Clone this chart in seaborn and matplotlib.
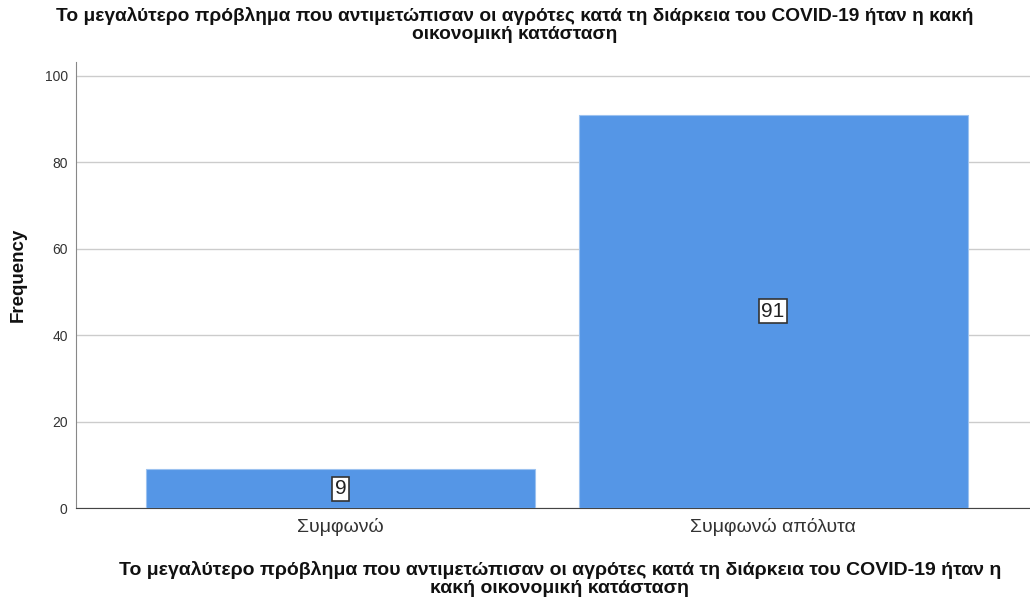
import matplotlib
matplotlib.use("Agg")
import matplotlib.pyplot as plt
import seaborn as sns
import pandas as pd

categories = ["Συμφωνώ", "Συμφωνώ απόλυτα"]
counts = [9, 91]
title = ("Το μεγαλύτερο πρόβλημα που αντιμετώπισαν οι αγρότες κατά τη διάρκεια του COVID-19 ήταν η κακή\n"
         "οικονομική κατάσταση")
xlabel = ("Το μεγαλύτερο πρόβλημα που αντιμετώπισαν οι αγρότες κατά τη διάρκεια του COVID-19 ήταν η\n"
          "κακή οικονομική κατάσταση")

df = pd.DataFrame({"cat": categories, "n": counts})

sns.set_style("white")
plt.rcParams["font.family"] = ["Liberation Sans", "DejaVu Sans"]

fig = plt.figure(figsize=(10.3, 6.01), dpi=100)
ax = fig.add_axes([76 / 1030, 1 - 508 / 601, (1030 - 76) / 1030, (508 - 62) / 601])

sns.barplot(data=df, x="cat", y="n", color="#5596e6", width=0.9,
            edgecolor="#9cc2f0", linewidth=0.8, saturation=1, ax=ax, zorder=3)

ax.set_xlim(-0.612, 1.594)
ax.set_ylim(0, 103.2)
ax.set_yticks([0, 20, 40, 60, 80, 100])
ax.yaxis.grid(True, color="#cccccc", linewidth=1, zorder=0)
ax.set_axisbelow(True)

# value labels in white boxes at half bar height
for i, v in enumerate(counts):
    ax.text(i, v / 2, str(v), ha="center", va="center", fontsize=15, color="#222222",
            bbox=dict(boxstyle="square,pad=0.12", fc="white", ec="#333333", lw=1.2), zorder=5)

for s in ["top", "right"]:
    ax.spines[s].set_visible(False)
ax.spines["left"].set_color("#888888")
ax.spines["bottom"].set_color("#444444")
ax.tick_params(axis="both", length=0, colors="#333333")
ax.tick_params(axis="y", labelsize=10, pad=6)
ax.tick_params(axis="x", labelsize=14, pad=7)

ax.set_ylabel("")
ax.set_xlabel("")
fig.text(18 / 1030, 1 - 275 / 601, "Frequency", rotation=90, ha="center", va="center",
         fontsize=13.5, fontweight="bold", color="#111111")
fig.text(560 / 1030, 1 - 579 / 601, xlabel, ha="center", va="center",
         fontsize=14, fontweight="bold", linespacing=1.08, color="#111111")
fig.text(0.5, 1 - 25 / 601, title, ha="center", va="center",
         fontsize=13.8, fontweight="bold", linespacing=1.08, color="#111111")

fig.savefig("out.png", dpi=100)
